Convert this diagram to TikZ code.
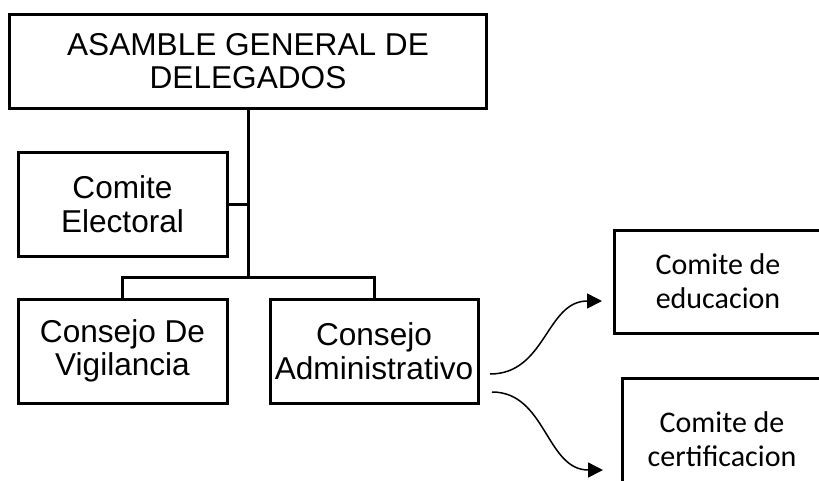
\documentclass[tikz,border=0pt]{standalone}
\usepackage{fontspec}
\newfontfamily\arialf{Liberation Sans}
\newfontfamily\calf{Carlito}
\usetikzlibrary{arrows.meta}
\begin{document}
\begin{tikzpicture}[x=1pt,y=-1pt,
  orgbox/.style={draw=black, line width=3pt, rectangle, inner sep=0pt, align=center,
     font=\arialf\fontsize{31.6}{33.5}\selectfont},
  sidebox/.style={draw=black, line width=3pt, rectangle, inner sep=0pt, align=center,
     font=\calf\fontsize{30}{34}\selectfont},
  link/.style={draw=black, line width=3pt},
  curvearrow/.style={draw=black, line width=1.5pt, -{Triangle[length=15pt,width=15pt]}}]
\useasboundingbox (0,0) rectangle (819,480);
\fill[white] (0,0) rectangle (819,480);

\node[orgbox, minimum width=477pt, minimum height=94pt] (a) at (248,61) {ASAMBLE GENERAL DE\\DELEGADOS};
\node[orgbox, minimum width=209pt, minimum height=104pt] (ce) at (122.5,204) {Comite\\Electoral};
\node[orgbox, minimum width=209pt, minimum height=104pt] (cv) at (122.5,351) {Consejo De\\Vigilancia};
\node[orgbox, minimum width=208pt, minimum height=104pt] (ca) at (374,351) {Consejo\\Administrativo};
\node[sidebox, minimum width=208pt, minimum height=103pt] (ed) at (718,281.5) {Comite de\\educacion};
\node[sidebox, minimum width=200pt, minimum height=123pt] (ct) at (722,439.5) {Comite de\\certificacion};

\coordinate (j) at (248,277);
\draw[link] (a.south) -- (j);
\draw[link] (ce.east) -- (ce.east -| j);
\draw[link] (cv.north) |- (j) -| (ca.north);

\coordinate (s1) at (490,374);
\coordinate (e1) at (602,301);
\coordinate (s2) at (492,392);
\coordinate (e2) at (603,470);
\draw[curvearrow] (s1) .. controls (546,374) and (546,301) .. (e1);
\draw[curvearrow] (s2) .. controls (546,392) and (546,470) .. (e2);
\end{tikzpicture}
\end{document}
